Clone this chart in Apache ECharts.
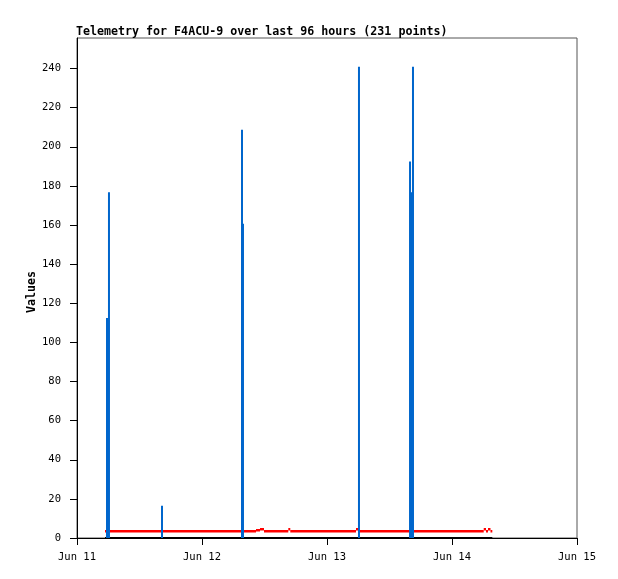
<!DOCTYPE html>
<html>
<head>
<meta charset="utf-8">
<script src="https://cdn.jsdelivr.net/npm/echarts@6/dist/echarts.min.js"></script>
<style>
html,body{margin:0;padding:0;background:#fff;}
#chart{width:618px;height:579px;}
</style>
</head>
<body>
<div id="chart"></div>
<script>
// Hours since Jun 11 00:00
const dayTicks = [0, 24, 48, 72, 96];
const dayLabels = ['Jun 11', 'Jun 12', 'Jun 13', 'Jun 14', 'Jun 15'];
const yTicks = [0, 20, 40, 60, 80, 100, 120, 140, 160, 180, 200, 220, 240];

// Blue spikes: [hour, value]
const spikeHours  = [5.76, 6.14, 16.32, 31.68, 31.87, 54.14, 63.94, 64.22, 64.51];
const spikeValues = [112.5, 176.8, 16.5, 208.7, 160.6, 240.9, 192.5, 176.8, 240.9];

// Red series as level segments: start hour, end hour, value
const redStart = [5.38, 34.37, 35.14, 35.9, 40.57, 40.95, 53.57, 53.95, 78.09, 78.53, 78.91, 79.39];
const redEnd   = [34.37, 35.14, 35.9, 40.57, 40.95, 53.57, 53.95, 78.09, 78.53, 78.91, 79.39, 79.74];
const redValue = [4, 4.5, 5, 4, 5, 4, 5, 4, 5, 4, 5, 4];

// Black series
const blackHours  = [5.38, 79.74];
const blackValues = [0, 0];

const font = 'DejaVu Sans Mono';
const zip = (a, b) => a.map((v, i) => [v, b[i]]);

const chart = echarts.init(document.getElementById('chart'));
chart.setOption({
  animation: false,
  backgroundColor: '#fff',
  title: {
    text: 'Telemetry for F4ACU-9 over last 96 hours (231 points)',
    left: 76, top: 26, padding: 0,
    textStyle: { fontFamily: font, fontWeight: 'bold', fontSize: 11.65, color: '#000' }
  },
  graphic: [{
    type: 'text', x: 32, y: 292, rotation: Math.PI / 2,
    style: {
      text: 'Values', align: 'center', verticalAlign: 'middle',
      font: 'bold 11.65px "DejaVu Sans Mono"', fill: '#000'
    }
  }],
  grid: {
    left: 77, right: 41, top: 38, bottom: 41,
    show: true, borderColor: '#555', borderWidth: 1, backgroundColor: 'transparent'
  },
  xAxis: {
    type: 'value', min: 0, max: 96,
    axisLine: { show: true, lineStyle: { color: '#000', width: 1 } },
    axisTick: { show: true, length: 7, lineStyle: { color: '#000' }, customValues: dayTicks },
    axisLabel: {
      customValues: dayTicks,
      formatter: v => dayLabels[dayTicks.indexOf(v)] || '',
      fontFamily: font, fontSize: 10.5, color: '#000', margin: 14
    },
    splitLine: { show: false }
  },
  yAxis: {
    type: 'value', min: 0, max: 255.6,
    axisLine: { show: true, lineStyle: { color: '#000', width: 1 } },
    axisTick: { show: true, length: 7, lineStyle: { color: '#000' }, customValues: yTicks },
    axisLabel: {
      customValues: yTicks,
      fontFamily: font, fontSize: 10.5, color: '#000', margin: 16
    },
    splitLine: { show: false }
  },
  series: [
    {
      type: 'custom',
      data: redStart.map((s, i) => [s, redEnd[i], redValue[i]]),
      encode: { x: [0, 1], y: 2 },
      renderItem: (params, api) => {
        const p0 = api.coord([api.value(0), api.value(2)]);
        const p1 = api.coord([api.value(1), api.value(2)]);
        return {
          type: 'rect',
          shape: { x: p0[0], y: Math.round(p0[1]), width: p1[0] - p0[0], height: 2.5 },
          style: { fill: '#ff0000' }
        };
      },
      z: 2
    },
    {
      type: 'line', data: zip(blackHours, blackValues),
      symbol: 'none', lineStyle: { color: '#000', width: 2 }, z: 3
    },
    {
      type: 'bar', data: zip(spikeHours, spikeValues), barWidth: 2,
      itemStyle: { color: '#0066cc' }, z: 4
    }
  ]
});
</script>
</body>
</html>
